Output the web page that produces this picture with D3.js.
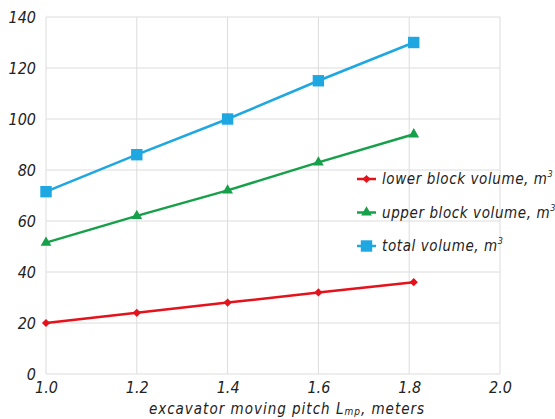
<!DOCTYPE html>
<html>
<head>
<meta charset="utf-8">
<script src="https://cdn.jsdelivr.net/npm/d3@7"></script>
<style>
  body { margin: 0; background: #fff; }
  svg text { font-family: "DejaVu Sans", sans-serif; font-stretch: condensed; font-style: italic; fill: #222; }
</style>
</head>
<body>
<script>
// pitch values (m) and volumes (m3)
var pitch = [1.0, 1.2, 1.4, 1.6, 1.81];
var lowerVol = [20, 24, 28, 32, 36];
var upperVol = [51.5, 62, 72, 83, 94];
var totalVol = [71.5, 86, 100, 115, 130];
var xTicks = [1.0, 1.2, 1.4, 1.6, 1.8, 2.0];
var yTicks = [0, 20, 40, 60, 80, 100, 120, 140];
var seriesNames = ["lower block volume, m", "upper block volume, m", "total volume, m"];

var width = 555, height = 419;
var margin = {top: 17, right: 55, bottom: 45, left: 46};

var svg = d3.select("body").append("svg")
    .attr("width", width)
    .attr("height", height);

var xScale = d3.scaleLinear().domain([1.0, 2.0]).range([margin.left, 500]);
var yScale = d3.scaleLinear().domain([0, 140]).range([374, margin.top]);

//grid
var grid = svg.append("g").attr("id", "grid");
grid.selectAll(".vline").data(xTicks).enter().append("line")
    .attr("x1", function(d) { return xScale(d); })
    .attr("x2", function(d) { return xScale(d); })
    .attr("y1", yScale(0)).attr("y2", yScale(140))
    .style("stroke", "#dcdcdc").style("stroke-width", 1);
grid.selectAll(".hline").data(yTicks).enter().append("line")
    .attr("y1", function(d) { return yScale(d); })
    .attr("y2", function(d) { return yScale(d); })
    .attr("x1", xScale(1.0)).attr("x2", xScale(2.0))
    .style("stroke", "#dcdcdc").style("stroke-width", 1);

//axes (labels only, grid draws the lines)
var xAxis = d3.axisBottom(xScale).tickValues(xTicks).tickFormat(d3.format(".1f")).tickSize(0).tickPadding(8);
var yAxis = d3.axisLeft(yScale).tickValues(yTicks).tickFormat(d3.format("d")).tickSize(0).tickPadding(10);

var gx = svg.append("g").attr("transform", "translate(0," + yScale(0) + ")").call(xAxis);
var gy = svg.append("g").attr("transform", "translate(" + xScale(1.0) + ",0)").call(yAxis);
[gx, gy].forEach(function(g) {
    g.select(".domain").remove();
    g.selectAll("text").style("font-size", "16px").style("font-family", null);
});

//axis title
var title = svg.append("text")
    .attr("x", 287).attr("y", 414)
    .attr("text-anchor", "middle")
    .style("font-size", "15px")
    .style("letter-spacing", "1px");
title.append("tspan").text("excavator moving pitch L");
title.append("tspan").style("font-size", "10px").attr("dy", 1).text("mp");
title.append("tspan").attr("dy", -1).text(", meters");

var series = [
    {name: seriesNames[0], values: lowerVol, color: "#e3121b", shape: d3.symbolSquare, size: 34, rot: 45},
    {name: seriesNames[1], values: upperVol, color: "#17a04a", shape: d3.symbolTriangle, size: 50, rot: 0},
    {name: seriesNames[2], values: totalVol, color: "#1ea7e1", shape: d3.symbolSquare, size: 130, rot: 0}
];

var line = d3.line()
    .x(function(d) { return xScale(d[0]); })
    .y(function(d) { return yScale(d[1]); });

var plot = svg.append("g").attr("id", "lines");
series.forEach(function(s) {
    var pts = pitch.map(function(p, i) { return [p, s.values[i]]; });
    plot.append("path")
        .attr("d", line(pts))
        .style("fill", "none")
        .style("stroke", s.color)
        .style("stroke-width", 2.5);
    plot.selectAll(null).data(pts).enter().append("path")
        .attr("d", d3.symbol().type(s.shape).size(s.size))
        .attr("transform", function(d) {
            return "translate(" + xScale(d[0]) + "," + yScale(d[1]) + ") rotate(" + s.rot + ")";
        })
        .style("fill", s.color);
});

//legend
var legend = svg.append("g").attr("id", "legend");
series.forEach(function(s, i) {
    var ly = 179 + i * 33.5;
    legend.append("line")
        .attr("x1", 357).attr("x2", 376)
        .attr("y1", ly).attr("y2", ly)
        .style("stroke", s.color).style("stroke-width", 2.5);
    legend.append("path")
        .attr("d", d3.symbol().type(s.shape).size(s.size))
        .attr("transform", "translate(366.5," + ly + ") rotate(" + s.rot + ")")
        .style("fill", s.color);
    var t = legend.append("text")
        .attr("x", 382).attr("y", ly + 5)
        .style("font-size", "15px")
        .style("letter-spacing", "0.6px")
        .text(s.name);
    t.append("tspan").attr("dy", -7).style("font-size", "9px").text("3");
});
</script>
</body>
</html>
